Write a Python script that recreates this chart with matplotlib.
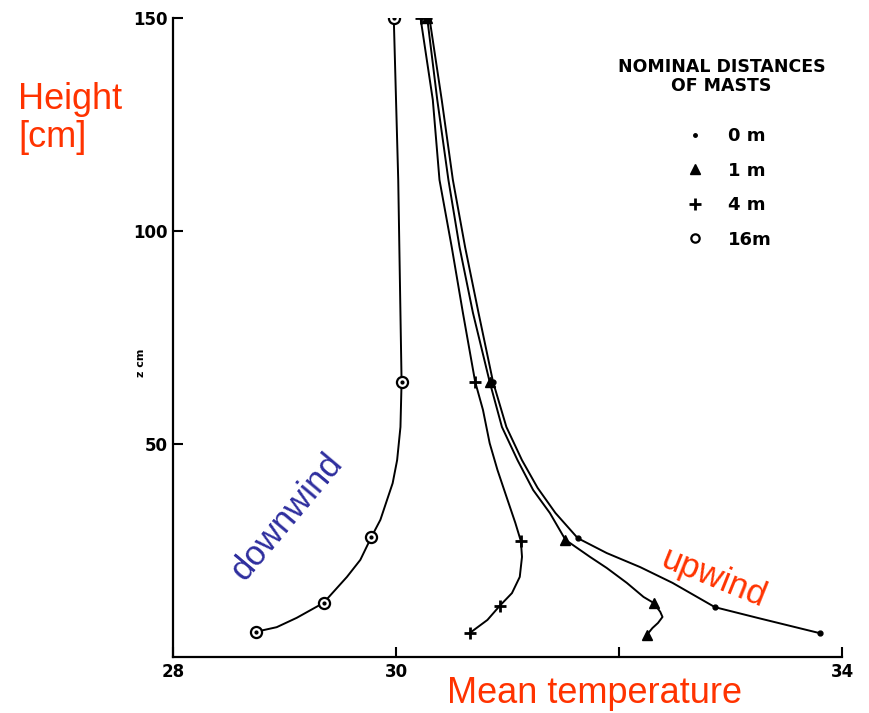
import matplotlib
matplotlib.use('Agg')
import matplotlib.pyplot as plt
from matplotlib.lines import Line2D

# traced curves (mean temperature, height in cm) for each mast
t_16 = [29.98, 30.02, 30.05, 30.04, 30.01, 29.97, 29.92, 29.86, 29.78, 29.68,
        29.56, 29.35, 29.11, 28.93, 28.74]
z_16 = [150, 112, 64.6, 54, 46.2, 40.8, 36.9, 32.2, 28.2, 22.8,
        18.8, 12.7, 9.2, 7.0, 5.9]
t_16_pts = [29.98, 30.05, 29.78, 29.35, 28.74]
z_16_pts = [150, 64.6, 28.2, 12.7, 5.9]

t_4 = [30.22, 30.33, 30.39, 30.50, 30.60, 30.71, 30.78, 30.84, 30.91, 31.00,
       31.07, 31.12, 31.13, 31.11, 31.04, 30.93, 30.82, 30.66]
z_4 = [150, 130.8, 112, 96.2, 80.8, 64.6, 58, 50.2, 43.9, 36.9,
       31.5, 27.2, 23.5, 18.8, 15.0, 12.0, 8.7, 5.6]
t_4_pts = [30.22, 30.71, 31.12, 30.93, 30.66]
z_4_pts = [150, 64.6, 27.2, 12.0, 5.6]

t_1 = [30.28, 30.37, 30.47, 30.57, 30.69, 30.84, 30.95, 31.09, 31.23, 31.38,
       31.52, 31.74, 31.89, 32.07, 32.22, 32.31, 32.37, 32.39, 32.35, 32.30, 32.25]
z_1 = [150, 130.8, 112, 96.2, 80.8, 64.6, 54, 46.2, 39.2, 33.8,
       27.5, 23.5, 20.9, 17.4, 14.1, 12.7, 10.6, 9.4, 8.0, 6.8, 5.2]
t_1_pts = [30.28, 30.84, 31.52, 32.31, 32.25]
z_1_pts = [150, 64.6, 27.5, 12.7, 5.2]

t_0 = [30.30, 30.41, 30.51, 30.62, 30.74, 30.87, 30.99, 31.13, 31.27, 31.43,
       31.63, 31.89, 32.19, 32.48, 32.86, 33.24, 33.80]
z_0 = [150, 130.8, 112, 96.2, 80.8, 64.6, 54, 46.2, 39.7, 33.8,
       27.9, 24.4, 21.1, 17.4, 11.7, 9.2, 5.6]
t_0_pts = [30.30, 30.87, 31.63, 32.86, 33.80]
z_0_pts = [150, 64.6, 27.9, 11.7, 5.6]

x_ticks = [28, 30, 32, 34]
x_labels = ['28', '30', '', '34']
y_ticks = [50, 100, 150]
mast_labels = ['0 m', '1 m', '4 m', '16m']

red = '#ff3300'
blue = '#2e2e9e'

fig = plt.figure(figsize=(8.69, 7.13), dpi=100)
ax = fig.add_axes([173/869, 1-657/713, (842-173)/869, (657-18)/713])

lw = 1.4
ax.plot(t_16, z_16, color='black', lw=lw)
ax.plot(t_4, z_4, color='black', lw=lw)
ax.plot(t_1, z_1, color='black', lw=lw)
ax.plot(t_0, z_0, color='black', lw=lw)

ax.plot(t_16_pts, z_16_pts, 'o', ms=8, mfc='white', mec='black', mew=1.6)
ax.plot(t_16_pts, z_16_pts, 'o', ms=2, color='black')
ax.plot(t_4_pts, z_4_pts, '+', ms=9, mew=2, color='black')
ax.plot(t_1_pts, z_1_pts, '^', ms=7, color='black')
ax.plot(t_0_pts, z_0_pts, 'o', ms=3.5, color='black')

ax.set_xlim(28, 34)
ax.set_ylim(0, 150)
ax.spines['top'].set_visible(False)
ax.spines['right'].set_visible(False)
ax.spines['left'].set_linewidth(1.6)
ax.spines['bottom'].set_linewidth(1.6)
ax.set_xticks(x_ticks)
ax.set_xticklabels(x_labels)
ax.set_yticks(y_ticks)
ax.tick_params(direction='in', length=7, width=1.5, labelsize=12, pad=4)
for lab in ax.get_xticklabels() + ax.get_yticklabels():
    lab.set_fontweight('bold')
ax.set_ylabel('z cm', fontsize=8, fontweight='bold')
ax.yaxis.set_label_coords(-0.04, 0.46)

# legend
ax.text(0.82, 0.938, 'NOMINAL DISTANCES\nOF MASTS', transform=ax.transAxes,
        ha='center', va='top', fontsize=12.5, fontweight='bold', linespacing=1.1)
handles = [
    Line2D([], [], ls='none', marker='o', ms=2.5, color='black'),
    Line2D([], [], ls='none', marker='^', ms=7, color='black'),
    Line2D([], [], ls='none', marker='+', ms=9, mew=2, color='black'),
    Line2D([], [], ls='none', marker='o', ms=6, mfc='white', mec='black', mew=1.6),
]
leg = ax.legend(handles, mast_labels, loc='upper left', bbox_to_anchor=(0.735, 0.855),
                frameon=False, prop={'size': 13, 'weight': 'bold'},
                labelspacing=0.92, handletextpad=1.1, handlelength=1.5)

fig.text(18/869, 1-82/713, 'Height\n[cm]', color=red, fontsize=26,
         family='Liberation Sans', ha='left', va='top', linespacing=1.1)
fig.text(447/869, 1-703/713, 'Mean temperature', color=red, fontsize=26,
         family='Liberation Sans', ha='left', va='baseline')
ax.text(29.02, 33, 'downwind', color=blue, fontsize=25, family='Liberation Sans',
        rotation=50, ha='center', va='center')
ax.text(32.85, 18.5, 'upwind', color=red, fontsize=25, family='Liberation Sans',
        rotation=-22, ha='center', va='center')

fig.savefig('out.png', dpi=100)
